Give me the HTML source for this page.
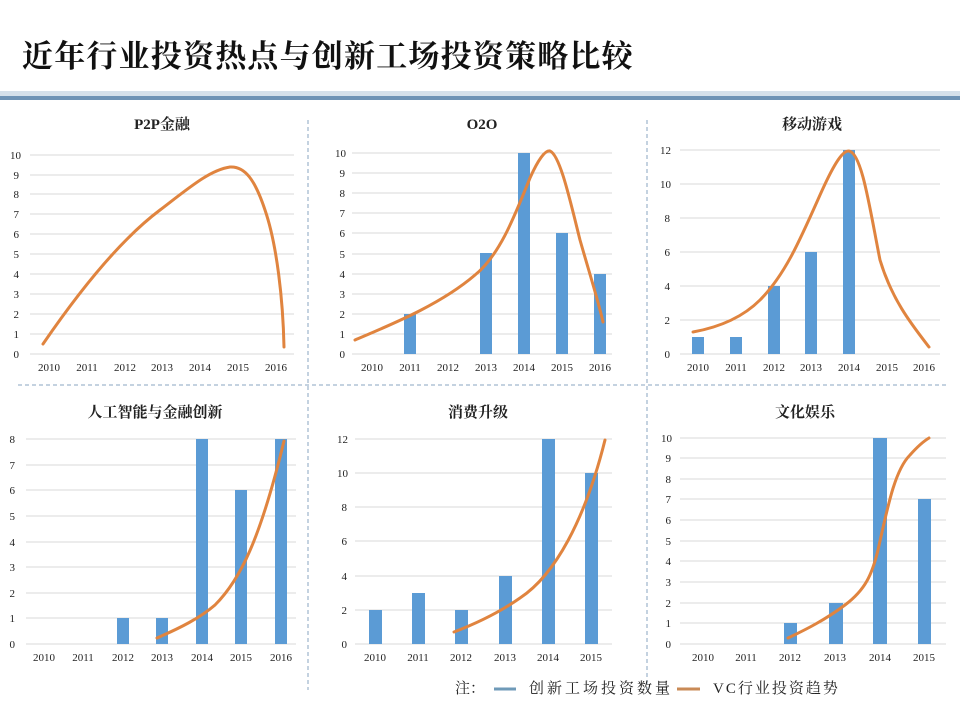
<!DOCTYPE html>
<html><head><meta charset="utf-8"><style>
body{margin:0;background:#fff}
svg{display:block}
text{font-family:"Liberation Serif","Noto Serif CJK SC",serif;fill:#222}
.t{font-size:11px}
.h{font-size:15px;font-weight:bold}
.g{stroke:#d9d9d9;stroke-width:1}
.b{fill:#5b9bd5}
.c{fill:none;stroke:#e0843f;stroke-width:3;stroke-linecap:round}
.d{stroke:#8aa6c0;stroke-width:1;stroke-dasharray:4,3}
</style></head><body>
<svg width="960" height="720" viewBox="0 0 960 720" xmlns="http://www.w3.org/2000/svg">
<text x="22" y="67" style="font-size:31px;font-weight:bold;letter-spacing:1.2px;font-family:'Noto Serif CJK SC',serif;fill:#111">近年行业投资热点与创新工场投资策略比较</text>
<rect x="0" y="91" width="960" height="5" fill="#d5e0ea"/>
<rect x="0" y="96" width="960" height="4" fill="#6f93b5"/>
<line class="d" x1="18" y1="385" x2="948" y2="385"/>
<line class="d" x1="308" y1="120" x2="308" y2="690"/>
<line class="d" x1="647" y1="120" x2="647" y2="690"/>

<!-- P1 -->
<text class="h" x="162" y="129" text-anchor="middle">P2P金融</text>
<path class="g" d="M30 354H294M30 334H294M30 314H294M30 294H294M30 274H294M30 254H294M30 234H294M30 214H294M30 194H294M30 175H294M30 155H294"/>
<g class="t" text-anchor="end"><text x="19" y="358">0</text><text x="19" y="338">1</text><text x="19" y="318">2</text><text x="19" y="298">3</text><text x="19" y="278">4</text><text x="19" y="258">5</text><text x="19" y="238">6</text><text x="19" y="218">7</text><text x="19" y="198">8</text><text x="19" y="179">9</text><text x="21" y="159">10</text></g>
<g class="t" text-anchor="middle"><text x="49" y="371">2010</text><text x="87" y="371">2011</text><text x="125" y="371">2012</text><text x="162" y="371">2013</text><text x="200" y="371">2014</text><text x="238" y="371">2015</text><text x="276" y="371">2016</text></g>
<path class="c" d="M43 344C80 290 120 240 160 210C190 187 210 170 230 167C245 166 255 180 265 210C277 245 283 300 284 347"/>

<!-- P2 -->
<text class="h" x="482" y="129" text-anchor="middle">O2O</text>
<path class="g" d="M352 354H612M352 334H612M352 314H612M352 294H612M352 274H612M352 254H612M352 233H612M352 213H612M352 193H612M352 173H612M352 153H612"/>
<g class="t" text-anchor="end"><text x="345" y="358">0</text><text x="345" y="338">1</text><text x="345" y="318">2</text><text x="345" y="298">3</text><text x="345" y="278">4</text><text x="345" y="258">5</text><text x="345" y="237">6</text><text x="345" y="217">7</text><text x="345" y="197">8</text><text x="345" y="177">9</text><text x="346" y="157">10</text></g>
<rect class="b" x="404" y="314" width="12" height="40"/><rect class="b" x="480" y="253" width="12" height="101"/><rect class="b" x="518" y="153" width="12" height="201"/><rect class="b" x="556" y="233" width="12" height="121"/><rect class="b" x="594" y="274" width="12" height="80"/>
<g class="t" text-anchor="middle"><text x="372" y="371">2010</text><text x="410" y="371">2011</text><text x="448" y="371">2012</text><text x="486" y="371">2013</text><text x="524" y="371">2014</text><text x="562" y="371">2015</text><text x="600" y="371">2016</text></g>
<path class="c" d="M355 340C390 325 440 305 475 275C500 255 515 215 530 178C538 160 545 150 550 151C560 155 570 200 580 240C590 275 598 300 603 322"/>

<!-- P3 -->
<text class="h" x="812" y="129" text-anchor="middle">移动游戏</text>
<path class="g" d="M680 354H940M680 320H940M680 286H940M680 252H940M680 218H940M680 184H940M680 150H940"/>
<g class="t" text-anchor="end"><text x="670" y="358">0</text><text x="670" y="324">2</text><text x="670" y="290">4</text><text x="670" y="256">6</text><text x="670" y="222">8</text><text x="671" y="188">10</text><text x="671" y="154">12</text></g>
<rect class="b" x="692" y="337" width="12" height="17"/><rect class="b" x="730" y="337" width="12" height="17"/><rect class="b" x="768" y="286" width="12" height="68"/><rect class="b" x="805" y="252" width="12" height="102"/><rect class="b" x="843" y="150" width="12" height="204"/>
<g class="t" text-anchor="middle"><text x="698" y="371">2010</text><text x="736" y="371">2011</text><text x="774" y="371">2012</text><text x="811" y="371">2013</text><text x="849" y="371">2014</text><text x="887" y="371">2015</text><text x="924" y="371">2016</text></g>
<path class="c" d="M693 332C715 328 740 320 760 300C785 275 800 240 820 195C832 168 842 150 849 151C862 153 870 210 880 260C892 300 912 325 929 347"/>

<!-- P4 -->
<text class="h" x="155" y="417" text-anchor="middle">人工智能与金融创新</text>
<path class="g" d="M26 644H296M26 618H296M26 593H296M26 567H296M26 542H296M26 516H296M26 490H296M26 465H296M26 439H296"/>
<g class="t" text-anchor="end"><text x="15" y="648">0</text><text x="15" y="622">1</text><text x="15" y="597">2</text><text x="15" y="571">3</text><text x="15" y="546">4</text><text x="15" y="520">5</text><text x="15" y="494">6</text><text x="15" y="469">7</text><text x="15" y="443">8</text></g>
<rect class="b" x="117" y="618" width="12" height="26"/><rect class="b" x="156" y="618" width="12" height="26"/><rect class="b" x="196" y="439" width="12" height="205"/><rect class="b" x="235" y="490" width="12" height="154"/><rect class="b" x="275" y="439" width="12" height="205"/>
<g class="t" text-anchor="middle"><text x="44" y="661">2010</text><text x="83" y="661">2011</text><text x="123" y="661">2012</text><text x="162" y="661">2013</text><text x="202" y="661">2014</text><text x="241" y="661">2015</text><text x="281" y="661">2016</text></g>
<path class="c" d="M157 638C180 628 200 618 215 605C240 580 260 540 284 441"/>

<!-- P5 -->
<text class="h" x="478" y="417" text-anchor="middle">消费升级</text>
<path class="g" d="M355 644H612M355 610H612M355 576H612M355 541H612M355 507H612M355 473H612M355 439H612"/>
<g class="t" text-anchor="end"><text x="347" y="648">0</text><text x="347" y="614">2</text><text x="347" y="580">4</text><text x="347" y="545">6</text><text x="347" y="511">8</text><text x="348" y="477">10</text><text x="348" y="443">12</text></g>
<rect class="b" x="369" y="610" width="13" height="34"/><rect class="b" x="412" y="593" width="13" height="51"/><rect class="b" x="455" y="610" width="13" height="34"/><rect class="b" x="499" y="576" width="13" height="68"/><rect class="b" x="542" y="439" width="13" height="205"/><rect class="b" x="585" y="473" width="13" height="171"/>
<g class="t" text-anchor="middle"><text x="375" y="661">2010</text><text x="418" y="661">2011</text><text x="461" y="661">2012</text><text x="505" y="661">2013</text><text x="548" y="661">2014</text><text x="591" y="661">2015</text></g>
<path class="c" d="M454 632C480 622 500 612 520 598C555 575 585 520 605 440"/>

<!-- P6 -->
<text class="h" x="805" y="417" text-anchor="middle">文化娱乐</text>
<path class="g" d="M680 644H946M680 623H946M680 603H946M680 582H946M680 561H946M680 541H946M680 520H946M680 499H946M680 479H946M680 458H946M680 438H946"/>
<g class="t" text-anchor="end"><text x="671" y="648">0</text><text x="671" y="627">1</text><text x="671" y="607">2</text><text x="671" y="586">3</text><text x="671" y="565">4</text><text x="671" y="545">5</text><text x="671" y="524">6</text><text x="671" y="503">7</text><text x="671" y="483">8</text><text x="671" y="462">9</text><text x="672" y="442">10</text></g>
<rect class="b" x="784" y="623" width="13" height="21"/><rect class="b" x="829" y="603" width="14" height="41"/><rect class="b" x="873" y="438" width="14" height="206"/><rect class="b" x="918" y="499" width="13" height="145"/>
<g class="t" text-anchor="middle"><text x="703" y="661">2010</text><text x="746" y="661">2011</text><text x="790" y="661">2012</text><text x="835" y="661">2013</text><text x="880" y="661">2014</text><text x="924" y="661">2015</text></g>
<path class="c" d="M788 638C805 630 825 620 845 605C865 590 872 575 878 550C888 505 895 470 910 455C918 446 924 441 929 438"/>

<!-- legend -->
<g style="font-size:15px">
<text x="455" y="693">注：</text>
<line x1="494" y1="689" x2="516" y2="689" stroke="#6f9ab8" stroke-width="3"/>
<text x="529" y="693" style="letter-spacing:3px">创新工场投资数量</text>
<line x1="677" y1="689" x2="700" y2="689" stroke="#c98a56" stroke-width="3"/>
<text x="713" y="693" style="letter-spacing:2px">VC行业投资趋势</text>
</g>
</svg>
</body></html>
